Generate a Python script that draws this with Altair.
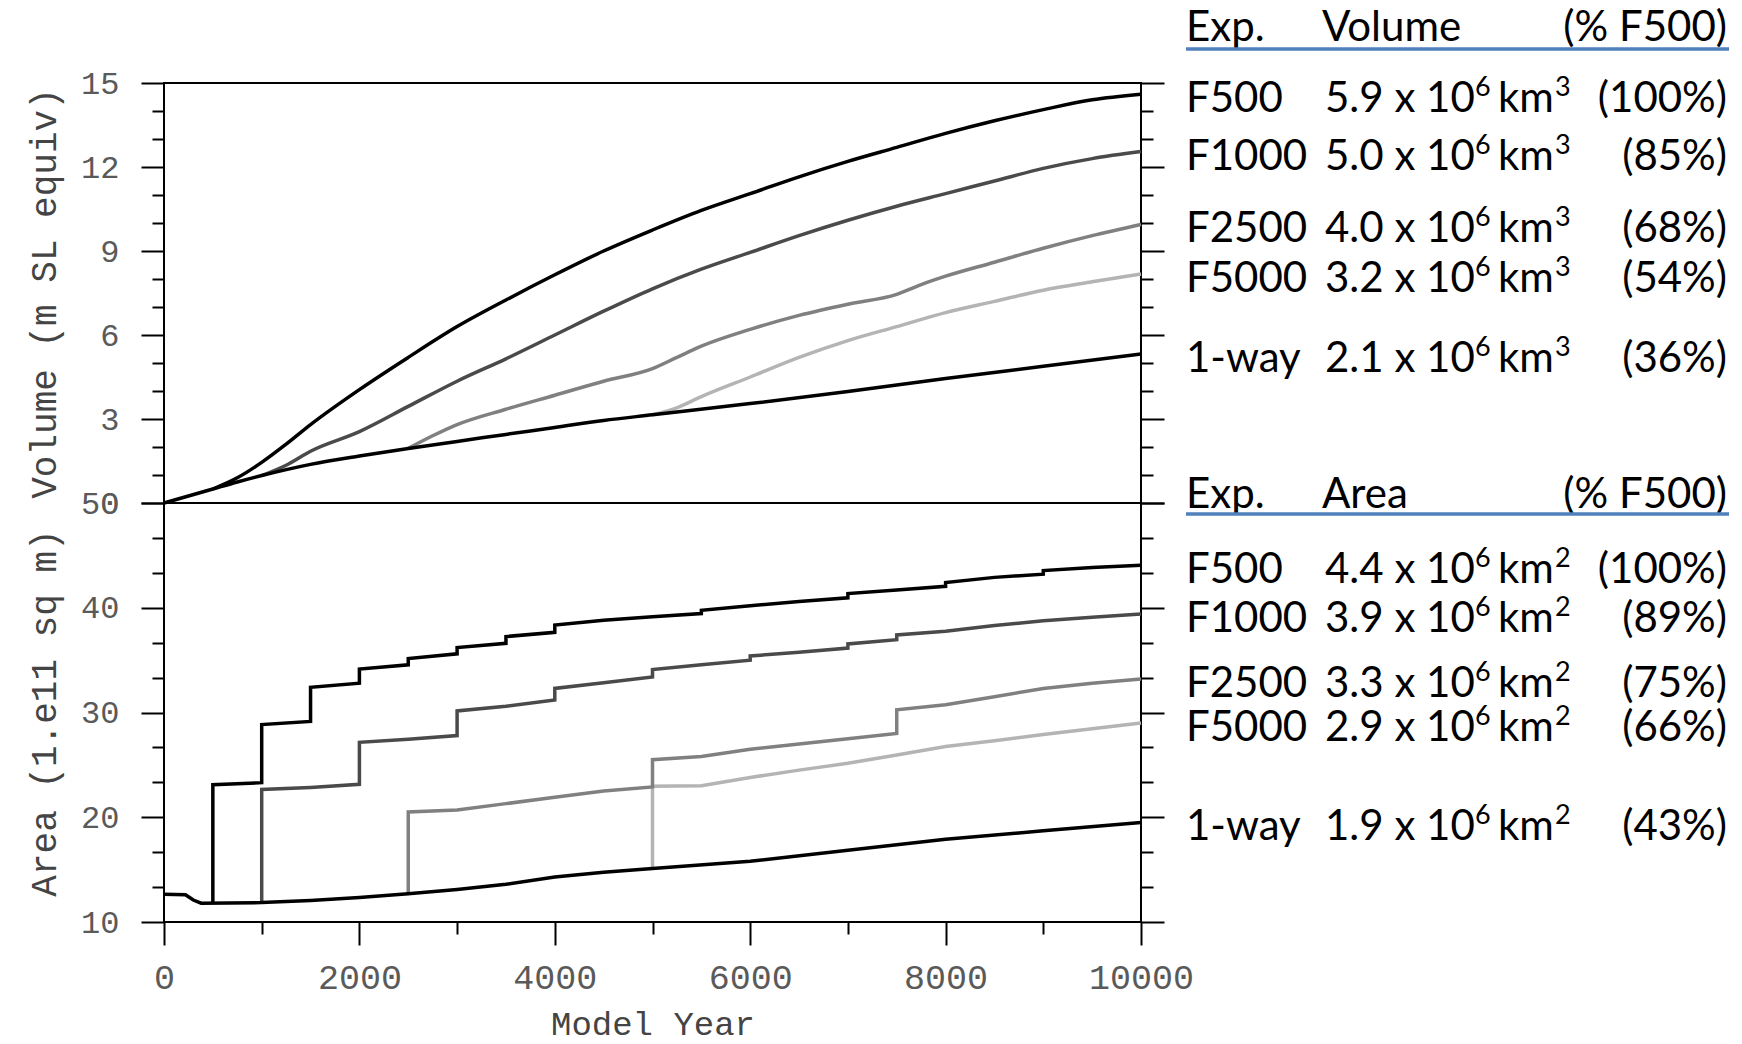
import altair as alt
import pandas as pd

EXPS = ["F500", "F1000", "F2500", "F5000", "1-way"]
LINE_COLORS = ["#000000", "#4a4a4a", "#808080", "#b4b4b4", "#000000"]

# ---------------- Volume (m SL equiv) ----------------
vol_year_1way = [0, 250, 500, 750, 1000, 1500, 2000, 2500, 3000, 3500, 4000, 4500, 5000, 6000, 7000, 8000, 9000, 10000]
vol_1way = [0.0, 0.25, 0.5, 0.75, 0.98, 1.38, 1.68, 1.95, 2.2, 2.45, 2.7, 2.95, 3.15, 3.55, 3.98, 4.45, 4.88, 5.32]
vol_year_f500 = [500, 750, 1000, 1250, 1500, 2000, 2500, 3000, 3500, 4000, 4500, 5000, 5500, 6000, 6500, 7000, 7500, 8000, 8500, 9000, 9500, 10000]
vol_f500 = [0.5, 0.9, 1.45, 2.1, 2.8, 4.05, 5.2, 6.3, 7.25, 8.15, 9.0, 9.75, 10.45, 11.05, 11.65, 12.2, 12.7, 13.2, 13.65, 14.05, 14.4, 14.6]
vol_year_f1000 = [1000, 1250, 1500, 2000, 2500, 3000, 3500, 4000, 4500, 5000, 5500, 6000, 6500, 7000, 7500, 8000, 8500, 9000, 9500, 10000]
vol_f1000 = [0.98, 1.35, 1.85, 2.55, 3.45, 4.35, 5.15, 6.0, 6.85, 7.65, 8.35, 8.95, 9.55, 10.1, 10.6, 11.05, 11.5, 11.95, 12.3, 12.55]
vol_year_f2500 = [2500, 2750, 3000, 3500, 4000, 4500, 5000, 5250, 5500, 6000, 6500, 7000, 7500, 7750, 8000, 8500, 9000, 9500, 10000]
vol_f2500 = [1.95, 2.4, 2.8, 3.35, 3.85, 4.35, 4.8, 5.2, 5.6, 6.2, 6.7, 7.1, 7.45, 7.8, 8.1, 8.6, 9.1, 9.55, 9.95]
vol_year_f5000 = [5000, 5250, 5500, 6000, 6500, 7000, 7500, 8000, 8500, 9000, 9500, 10000]
vol_f5000 = [3.15, 3.4, 3.8, 4.5, 5.2, 5.8, 6.3, 6.8, 7.2, 7.6, 7.9, 8.18]

# ---------------- Area (1.e11 sq m) ----------------
area_year_1way = [0, 220, 300, 380, 1000, 1500, 2000, 2500, 3000, 3500, 4000, 4500, 5000, 6000, 7000, 8000, 9000, 10000]
area_1way = [12.65, 12.6, 12.1, 11.8, 11.85, 12.05, 12.35, 12.7, 13.1, 13.6, 14.3, 14.75, 15.1, 15.8, 16.85, 17.9, 18.7, 19.5]
area_year_f500 = [500, 500, 1000, 1000, 1500, 1500, 2000, 2000, 2500, 2500, 3000, 3000, 3500, 3500, 4000, 4000, 4500, 5000, 5500, 5500, 6000, 6500, 7000, 7000, 7500, 8000, 8000, 8500, 9000, 9000, 9500, 10000]
area_f500 = [11.8, 23.1, 23.3, 28.85, 29.15, 32.4, 32.8, 34.15, 34.55, 35.15, 35.6, 36.2, 36.6, 37.25, 37.65, 38.35, 38.8, 39.15, 39.45, 39.75, 40.2, 40.6, 40.95, 41.35, 41.7, 42.05, 42.4, 42.9, 43.2, 43.55, 43.85, 44.05]
area_year_f1000 = [1000, 1000, 1500, 2000, 2000, 2500, 3000, 3000, 3500, 4000, 4000, 4500, 5000, 5000, 5500, 6000, 6000, 6500, 7000, 7000, 7500, 7500, 8000, 8500, 9000, 9500, 10000]
area_f1000 = [11.85, 22.65, 22.85, 23.15, 27.15, 27.45, 27.8, 30.15, 30.6, 31.2, 32.3, 32.85, 33.4, 34.1, 34.55, 35.0, 35.4, 35.75, 36.15, 36.55, 36.95, 37.4, 37.75, 38.3, 38.75, 39.1, 39.4]
area_year_f2500 = [2500, 2500, 3000, 3500, 4000, 4500, 5000, 5000, 5500, 6000, 6500, 7000, 7500, 7500, 8000, 8500, 9000, 9500, 10000]
area_f2500 = [12.7, 20.5, 20.7, 21.3, 21.9, 22.5, 22.9, 25.5, 25.8, 26.5, 27.0, 27.5, 28.0, 30.25, 30.75, 31.5, 32.3, 32.8, 33.2]
area_year_f5000 = [5000, 5000, 5500, 6000, 6500, 7000, 7500, 8000, 8500, 9000, 9500, 10000]
area_f5000 = [15.1, 22.95, 23.0, 23.8, 24.5, 25.15, 25.95, 26.75, 27.3, 27.9, 28.45, 29.0]

# ---------------- table text ----------------
vol_mant = ["5.9 x 10", "5.0 x 10", "4.0 x 10", "3.2 x 10", "2.1 x 10"]
vol_pct = ["(100%)", "(85%)", "(68%)", "(54%)", "(36%)"]
area_mant = ["4.4 x 10", "3.9 x 10", "3.3 x 10", "2.9 x 10", "1.9 x 10"]
area_pct = ["(100%)", "(89%)", "(75%)", "(66%)", "(43%)"]
POWER_TEN = "6"
UNIT = "km"
VOL_POWER = "3"
AREA_POWER = "2"

vol_ticks = [0, 3, 6, 9, 12, 15]
vol_minor = [1, 2, 4, 5, 7, 8, 10, 11, 13, 14]
area_ticks = [10, 20, 30, 40, 50]
area_minor = [13.33, 16.67, 23.33, 26.67, 33.33, 36.67, 43.33, 46.67]
x_ticks = [0, 2000, 4000, 6000, 8000, 10000]
x_minor = [1000, 3000, 5000, 7000, 9000]


def long_df(series):
    rows = []
    for exp, years, vals in series:
        for i, (yr, v) in enumerate(zip(years, vals)):
            rows.append({"exp": exp, "year": yr, "value": v, "i": i})
    return pd.DataFrame(rows)


vol_df = long_df([
    ("F5000", vol_year_f5000, vol_f5000),
    ("F2500", vol_year_f2500, vol_f2500),
    ("F1000", vol_year_f1000, vol_f1000),
    ("F500", vol_year_f500, vol_f500),
    ("1-way", vol_year_1way, vol_1way),
])
area_df = long_df([
    ("F5000", area_year_f5000, area_f5000),
    ("F2500", area_year_f2500, area_f2500),
    ("F1000", area_year_f1000, area_f1000),
    ("F500", area_year_f500, area_f500),
    ("1-way", area_year_1way, area_1way),
])

vol_tab = pd.DataFrame({
    "exp": EXPS, "mant": vol_mant, "pct": vol_pct,
    "sup": [POWER_TEN] * 5, "unit": [UNIT] * 5, "pow": [VOL_POWER] * 5,
    "end": [vol_f500[-1], vol_f1000[-1], vol_f2500[-1], vol_f5000[-1], vol_1way[-1]],
})
area_tab = pd.DataFrame({
    "exp": EXPS, "mant": area_mant, "pct": area_pct,
    "sup": [POWER_TEN] * 5, "unit": [UNIT] * 5, "pow": [AREA_POWER] * 5,
    "end": [area_f500[-1], area_f1000[-1], area_f2500[-1], area_f5000[-1], area_1way[-1]],
})
one = pd.DataFrame({"k": [0]})

W, H, HT = 977, 839, 420
MONO = "Liberation Mono"
TF = "Lato, 'Noto Sans', sans-serif"
LBL = "#5a5a5a"
TTL = "#444444"

xs = alt.Scale(domain=[0, 10000], nice=False, zero=False)


def vs():
    return alt.Scale(domain=[0, 15], range=[HT, 0], nice=False, zero=False)


def ars():
    return alt.Scale(domain=[10, 50], range=[H, HT], nice=False, zero=False)


def ax(values, orient, size, labels=False, title=None, **kw):
    return alt.Axis(values=values, orient=orient, tickSize=size, tickWidth=2,
                    tickColor="black", domain=False, grid=False, labels=labels,
                    title=title, labelOverlap=False, labelFlush=False, **kw)


ylab = dict(labelFont=MONO, labelFontSize=32, labelColor=LBL, labelPadding=22,
            titleFont=MONO, titleFontSize=36, titleColor=TTL, titlePadding=17,
            titleFontWeight="normal")

x_major_axis = ax(x_ticks, "bottom", 23, labels=True, title="Model Year", format="d",
                  labelFont=MONO, labelFontSize=35, labelColor=LBL, labelPadding=15,
                  titleFont=MONO, titleFontSize=34, titleColor=TTL, titlePadding=12,
                  titleFontWeight="normal")
x_minor_axis = ax(x_minor, "bottom", 12)

color = alt.Color("exp:N", scale=alt.Scale(domain=EXPS, range=LINE_COLORS), legend=None)

vol_lines = alt.Chart(vol_df).mark_line(strokeWidth=3.5, interpolate="monotone").encode(
    x=alt.X("year:Q", scale=xs, axis=x_major_axis),
    y=alt.Y("value:Q", scale=vs(), axis=ax(vol_ticks, "left", 23, labels=True,
                                            title="Volume (m SL equiv)", format="d", **ylab)),
    color=color, order="i:Q",
)
area_lines = alt.Chart(area_df).mark_line(strokeWidth=3.5).encode(
    x=alt.X("year:Q", scale=xs, axis=x_minor_axis),
    y=alt.Y("value:Q", scale=ars(), axis=ax(area_ticks, "left", 23, labels=True,
                                             title="Area (1.e11 sq m)", format="d", **ylab)),
    color=color, order="i:Q",
)


def dummy(df, scale, axis):
    return alt.Chart(df).mark_point(opacity=0).encode(
        x=alt.X("year:Q", scale=xs, axis=None),
        y=alt.Y("value:Q", scale=scale, axis=axis),
    )


dummies = [
    dummy(vol_df, vs(), ax(vol_minor, "left", 12)),
    dummy(vol_df, vs(), ax(vol_ticks, "right", 23)),
    dummy(vol_df, vs(), ax(vol_minor, "right", 12)),
    dummy(area_df, ars(), ax(area_minor, "left", 12)),
    dummy(area_df, ars(), ax(area_ticks, "right", 23)),
    dummy(area_df, ars(), ax(area_minor, "right", 12)),
]

boundary = alt.Chart(one).mark_rule(color="black", strokeWidth=2).encode(
    y=alt.YDatum(0, scale=vs(), axis=None, type="quantitative")
)

COL1, COL2, COL3 = 1022, 1161, 1563
X_SUP, X_UNIT, X_POW = 1311, 1334, 1391
FS, FS_SUP = 42, 27
DY = 5


def table_layers(tab, scale, header_word, hy, ly):
    base = alt.Chart(tab)
    yenc = alt.Y("end:Q", scale=scale, axis=None)

    def col(field, x, align="left", size=FS, dy=DY):
        return base.mark_text(align=align, baseline="middle", font=TF, fontSize=size,
                              color="black", dy=dy).encode(x=alt.value(x), y=yenc, text=f"{field}:N")

    def hdr(text, x, align="left"):
        return alt.Chart(one).mark_text(text=text, align=align, baseline="middle", font=TF,
                                        fontSize=FS, color="black").encode(x=alt.value(x), y=alt.value(hy))

    return [
        col("exp", COL1),
        col("mant", COL2),
        col("sup", X_SUP, size=FS_SUP, dy=DY - 11),
        col("unit", X_UNIT),
        col("pow", X_POW, size=FS_SUP, dy=DY - 11),
        col("pct", COL3, align="right"),
        hdr("Exp.", COL1),
        hdr(header_word, COL2 - 3),
        hdr("(% F500)", COL3, align="right"),
        alt.Chart(one).mark_rule(color="#4f81bd", strokeWidth=3.5).encode(
            x=alt.value(COL1), x2=alt.value(COL3 + 2), y=alt.value(ly)),
    ]


layers = [vol_lines, area_lines] + dummies + [boundary] \
    + table_layers(vol_tab, vs(), "Volume", -55, -34) \
    + table_layers(area_tab, ars(), "Area", 412, 431)

chart = alt.layer(*layers).resolve_scale(
    y="independent"
).resolve_axis(
    x="independent", y="independent"
).properties(
    width=W, height=H,
    autosize=alt.AutoSizeParams(type="none"),
    padding={"left": 164, "top": 83, "right": 601, "bottom": 122},
).configure_view(stroke="black", strokeWidth=2)

chart.save("out.html", embed_options={"renderer": "svg", "actions": False})
